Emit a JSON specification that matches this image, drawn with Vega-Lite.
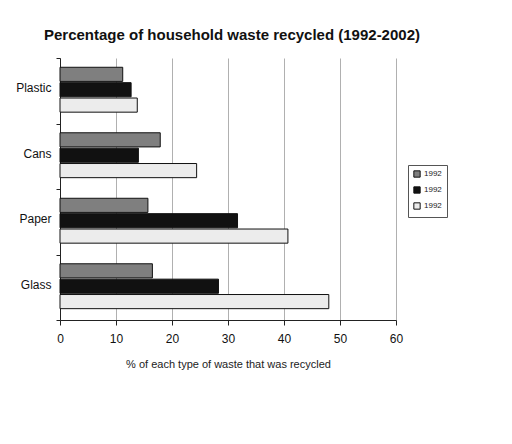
{
  "$schema": "https://vega.github.io/schema/vega-lite/v6.json",
  "width": 336,
  "height": 262,
  "autosize": {"type": "none"},
  "padding": {"left": 60, "top": 58, "right": 116, "bottom": 124},
  "background": "white",
  "title": {
    "text": "Percentage of household waste recycled (1992-2002)",
    "font": "Liberation Sans",
    "fontSize": 15,
    "fontWeight": "bold",
    "color": "#111111",
    "anchor": "start",
    "frame": "group",
    "dx": -16,
    "offset": 9
  },
  "config": {
    "view": {"stroke": null},
    "font": "Liberation Sans"
  },
  "data": {
    "values": [
      {"type": "Plastic", "year": "1992", "pct": 11.2},
      {"type": "Plastic", "year": "1997", "pct": 12.7},
      {"type": "Plastic", "year": "2002", "pct": 13.8},
      {"type": "Cans", "year": "1992", "pct": 17.9},
      {"type": "Cans", "year": "1997", "pct": 14.0},
      {"type": "Cans", "year": "2002", "pct": 24.4},
      {"type": "Paper", "year": "1992", "pct": 15.7},
      {"type": "Paper", "year": "1997", "pct": 31.7},
      {"type": "Paper", "year": "2002", "pct": 40.7},
      {"type": "Glass", "year": "1992", "pct": 16.5},
      {"type": "Glass", "year": "1997", "pct": 28.3},
      {"type": "Glass", "year": "2002", "pct": 48.0}
    ]
  },
  "mark": {"type": "bar", "stroke": "#111111", "strokeWidth": 1},
  "encoding": {
    "y": {
      "field": "type",
      "type": "nominal",
      "sort": ["Plastic", "Cans", "Paper", "Glass"],
      "scale": {"paddingInner": 0, "paddingOuter": 0},
      "axis": {
        "title": null,
        "tickBand": "extent",
        "domainColor": "#222222",
        "tickColor": "#222222",
        "tickSize": 4,
        "labelFont": "Liberation Sans",
        "labelFontSize": 12,
        "labelColor": "#111111",
        "labelPadding": 5,
        "labelOffset": -3
      }
    },
    "yOffset": {
      "field": "year",
      "type": "nominal",
      "scale": {"paddingInner": 0.08, "paddingOuter": 0.67, "align": 0.45}
    },
    "x": {
      "field": "pct",
      "type": "quantitative",
      "scale": {"domain": [0, 60], "nice": false},
      "axis": {
        "title": "% of each type of waste that was recycled",
        "titleFont": "Liberation Sans",
        "titleFontSize": 11,
        "titleFontWeight": "normal",
        "titleColor": "#222222",
        "titlePadding": 14,
        "values": [0, 10, 20, 30, 40, 50, 60],
        "grid": true,
        "gridColor": "#b0b0b0",
        "domainColor": "#222222",
        "tickColor": "#222222",
        "tickSize": 5,
        "labelFlush": false,
        "labelFont": "Liberation Sans",
        "labelFontSize": 12,
        "labelColor": "#111111",
        "labelPadding": 8
      }
    },
    "fill": {
      "field": "year",
      "type": "nominal",
      "scale": {
        "domain": ["1992", "1997", "2002"],
        "range": ["#7f7f7f", "#111111", "#ececec"]
      },
      "legend": {
        "title": null,
        "orient": "none",
        "legendX": 348,
        "legendY": 107,
        "labelExpr": "'1992'",
        "symbolType": "square",
        "symbolSize": 40,
        "symbolStrokeColor": "#111111",
        "symbolStrokeWidth": 1,
        "labelFont": "Liberation Sans",
        "labelFontSize": 8,
        "labelColor": "#222222",
        "labelOffset": 3,
        "rowPadding": 4,
        "padding": 5,
        "strokeColor": "#555555",
        "fillColor": "white"
      }
    }
  }
}
